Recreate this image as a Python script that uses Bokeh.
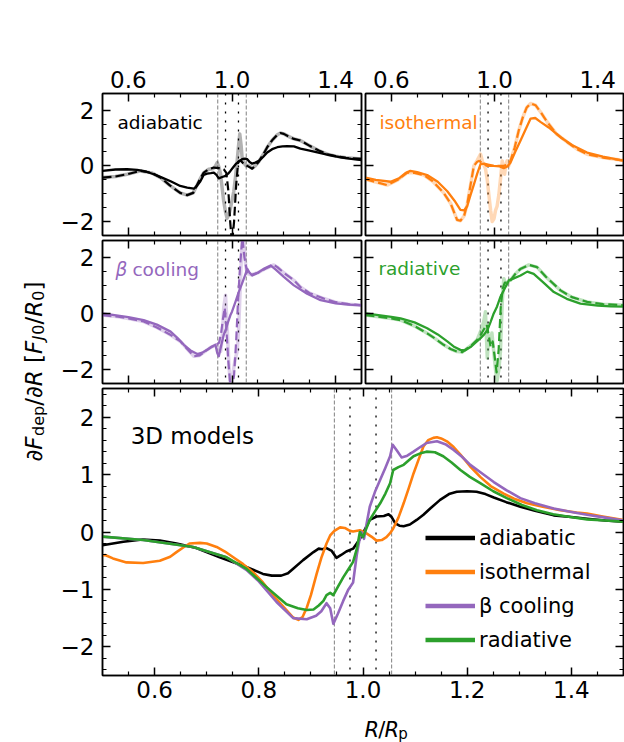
import math
from bokeh.plotting import figure
from bokeh.models import Range1d, FixedTicker, LinearAxis, Span, Label, Legend, LegendItem
from bokeh.layouts import row, column
from bokeh.embed import file_html
from bokeh.resources import INLINE

FONT = "DejaVu Sans"

# ---------------- ticks ----------------
x_major_small = [0.6, 1.0, 1.4]
x_minor_small = [0.7, 0.8, 0.9, 1.1, 1.2, 1.3]
x_major_big = [0.6, 0.8, 1.0, 1.2, 1.4]
x_minor_big = [0.55, 0.65, 0.7, 0.75, 0.85, 0.9, 0.95, 1.05, 1.1, 1.15, 1.25, 1.3, 1.35, 1.45]
x_tick_labels = {0.6: "0.6", 0.8: "0.8", 1.0: "1.0", 1.2: "1.2", 1.4: "1.4"}
y_major_small = [-2, 0, 2]
y_minor_small = [-1.5, -1.0, -0.5, 0.5, 1.0, 1.5]
y_major_big = [-2, -1, 0, 1, 2]
y_minor_big = [-2.4, -2.2, -1.8, -1.6, -1.4, -1.2, -0.8, -0.6, -0.4, -0.2,
               0.2, 0.4, 0.6, 0.8, 1.2, 1.4, 1.6, 1.8, 2.2, 2.4]
y_tick_labels = {-2: "\u22122", -1: "\u22121", 0: "0", 1: "1", 2: "2"}

hill_edges = [0.945, 1.055]
inner_edges = [0.975, 1.025]

BLACK = "#000000"
ORANGE = "#ff7f0e"
PURPLE = "#9467bd"
GREEN = "#2ca02c"

# ---------------- 3D models (bottom panel) ----------------
adi_3d = [(0.50, -0.23), (0.54, -0.17), (0.577, -0.13), (0.61, -0.15), (0.642, -0.20), (0.68, -0.28),
          (0.725, -0.44), (0.776, -0.61), (0.808, -0.73), (0.825, -0.76), (0.843, -0.76), (0.856, -0.72),
          (0.866, -0.64), (0.885, -0.49), (0.905, -0.35), (0.915, -0.29), (0.922, -0.30), (0.93, -0.28),
          (0.94, -0.33), (0.949, -0.45), (0.958, -0.40), (0.968, -0.34), (0.981, -0.29), (0.994, -0.12),
          (1.004, 0.05), (1.013, 0.21), (1.026, 0.27), (1.04, 0.28), (1.049, 0.31), (1.055, 0.26),
          (1.062, 0.15), (1.07, 0.11), (1.078, 0.10), (1.09, 0.13), (1.103, 0.21), (1.116, 0.30),
          (1.129, 0.41), (1.148, 0.56), (1.165, 0.66), (1.18, 0.70), (1.20, 0.71), (1.218, 0.70),
          (1.235, 0.66), (1.251, 0.60), (1.275, 0.52), (1.302, 0.44), (1.33, 0.37), (1.366, 0.29),
          (1.40, 0.26), (1.43, 0.23), (1.465, 0.20), (1.50, 0.18)]

iso_3d = [(0.50, -0.41), (0.505, -0.40), (0.52, -0.46), (0.546, -0.53), (0.578, -0.54), (0.61, -0.50),
          (0.63, -0.43), (0.642, -0.35), (0.655, -0.27), (0.667, -0.20), (0.687, -0.19), (0.70, -0.20),
          (0.719, -0.26), (0.735, -0.34), (0.751, -0.44), (0.77, -0.56), (0.789, -0.70), (0.808, -0.88),
          (0.828, -1.11), (0.847, -1.30), (0.866, -1.49), (0.876, -1.53), (0.884, -1.48), (0.892, -1.32),
          (0.90, -1.10), (0.911, -0.73), (0.92, -0.45), (0.93, -0.20), (0.937, -0.06), (0.945, 0.02),
          (0.956, 0.08), (0.965, 0.07), (0.975, 0.02), (0.981, 0.01), (0.994, 0.03), (1.006, -0.02),
          (1.016, -0.08), (1.026, -0.15), (1.036, -0.14), (1.045, -0.09), (1.052, -0.02), (1.058, 0.06),
          (1.068, 0.25), (1.078, 0.50), (1.088, 0.77), (1.097, 1.02), (1.107, 1.27), (1.116, 1.49),
          (1.125, 1.60), (1.135, 1.64), (1.142, 1.65), (1.15, 1.63), (1.161, 1.58), (1.174, 1.48),
          (1.187, 1.35), (1.205, 1.15), (1.225, 0.96), (1.245, 0.80), (1.27, 0.67), (1.29, 0.58),
          (1.315, 0.50), (1.345, 0.44), (1.379, 0.38), (1.41, 0.34), (1.43, 0.32), (1.46, 0.27),
          (1.50, 0.21)]

beta_3d = [(0.50, -0.08), (0.578, -0.14), (0.674, -0.26), (0.738, -0.44), (0.776, -0.66), (0.80, -0.86),
           (0.834, -1.22), (0.866, -1.50), (0.892, -1.52), (0.910, -1.46), (0.920, -1.38), (0.930, -1.24),
           (0.937, -1.33), (0.943, -1.60), (0.952, -1.42), (0.962, -1.20), (0.972, -1.00), (0.981, -0.88),
           (0.988, -0.40), (0.993, -0.15), (0.997, 0.0), (1.002, -0.12), (1.007, 0.15), (1.013, 0.44),
           (1.023, 0.70), (1.033, 0.91), (1.043, 1.12), (1.052, 1.32), (1.057, 1.52), (1.065, 1.42),
           (1.074, 1.30), (1.085, 1.33), (1.097, 1.40), (1.11, 1.48), (1.122, 1.55), (1.142, 1.58),
           (1.158, 1.53), (1.174, 1.43), (1.19, 1.31), (1.206, 1.17), (1.23, 1.01), (1.251, 0.87),
           (1.275, 0.73), (1.302, 0.59), (1.33, 0.50), (1.366, 0.41), (1.40, 0.35), (1.43, 0.30),
           (1.465, 0.25), (1.50, 0.20)]

rad_3d = [(0.50, -0.08), (0.578, -0.14), (0.674, -0.26), (0.738, -0.44), (0.776, -0.64), (0.815, -0.96),
          (0.853, -1.26), (0.875, -1.33), (0.892, -1.36), (0.905, -1.35), (0.915, -1.28), (0.924, -1.20),
          (0.930, -1.10), (0.937, -1.06), (0.943, -1.10), (0.952, -0.95), (0.962, -0.79), (0.972, -0.65),
          (0.981, -0.52), (0.988, -0.30), (0.994, 0.0), (1.0, -0.09), (1.006, 0.05), (1.013, 0.21),
          (1.023, 0.36), (1.033, 0.50), (1.043, 0.67), (1.052, 0.85), (1.058, 1.08), (1.068, 1.13),
          (1.078, 1.17), (1.088, 1.25), (1.097, 1.32), (1.11, 1.37), (1.122, 1.40), (1.138, 1.39),
          (1.154, 1.32), (1.17, 1.21), (1.187, 1.08), (1.205, 0.96), (1.225, 0.85), (1.25, 0.71),
          (1.276, 0.59), (1.305, 0.47), (1.334, 0.38), (1.365, 0.31), (1.398, 0.26), (1.43, 0.22),
          (1.465, 0.20), (1.50, 0.18)]

# ---------------- small panels: solid, dashed, faint ----------------
adi_solid = [(0.50, -0.18), (0.55, -0.13), (0.595, -0.12), (0.634, -0.14), (0.67, -0.21), (0.698, -0.30),
             (0.73, -0.42), (0.763, -0.55), (0.80, -0.72), (0.827, -0.78), (0.853, -0.82), (0.866, -0.70),
             (0.878, -0.55), (0.891, -0.32), (0.904, -0.28), (0.918, -0.26), (0.93, -0.24), (0.94, -0.32),
             (0.949, -0.45), (0.962, -0.40), (0.975, -0.36), (0.985, -0.28), (0.994, -0.18), (1.004, -0.06),
             (1.014, 0.06), (1.026, 0.15), (1.039, 0.24), (1.05, 0.26), (1.059, 0.24), (1.068, 0.14),
             (1.078, 0.08), (1.09, 0.12), (1.104, 0.18), (1.12, 0.32), (1.136, 0.48), (1.155, 0.60),
             (1.175, 0.67), (1.195, 0.70), (1.213, 0.71), (1.239, 0.70), (1.264, 0.62), (1.30, 0.55),
             (1.342, 0.46), (1.38, 0.38), (1.42, 0.31), (1.46, 0.25), (1.50, 0.21)]
adi_dashed = [(0.50, -0.42), (0.55, -0.38), (0.595, -0.30), (0.647, -0.18), (0.69, -0.25), (0.724, -0.42),
              (0.76, -0.70), (0.80, -0.97), (0.827, -1.05), (0.85, -0.97), (0.866, -0.67), (0.878, -0.45),
              (0.891, -0.24), (0.91, -0.12), (0.93, -0.06), (0.949, -0.08), (0.968, -0.12), (0.978, -0.25),
              (0.986, -0.90), (0.993, -2.00), (1.0, -2.80), (1.008, -2.00), (1.016, -0.70), (1.024, 0.15),
              (1.032, 0.20), (1.042, 0.10), (1.05, 0.02), (1.059, 0.0), (1.078, -0.10), (1.09, 0.0),
              (1.104, 0.16), (1.12, 0.40), (1.136, 0.67), (1.155, 0.92), (1.175, 1.12), (1.187, 1.18),
              (1.20, 1.15), (1.22, 1.05), (1.239, 0.97), (1.264, 0.91), (1.30, 0.72), (1.335, 0.55),
              (1.368, 0.42), (1.40, 0.35), (1.44, 0.29), (1.50, 0.25)]
adi_faint = [(0.50, -0.42), (0.55, -0.38), (0.595, -0.30), (0.647, -0.18), (0.69, -0.25), (0.724, -0.42),
             (0.76, -0.70), (0.80, -0.97), (0.827, -1.05), (0.85, -0.97), (0.866, -0.67), (0.878, -0.45),
             (0.891, -0.24), (0.91, -0.12), (0.926, -0.10), (0.935, -0.02), (0.943, 0.12), (0.950, -0.05),
             (0.956, -0.30), (0.962, -0.80), (0.968, -1.27), (0.975, -1.65), (0.981, -1.88), (0.988, -1.75),
             (0.994, -1.52), (1.0, -1.25), (1.007, -0.91), (1.014, -0.35), (1.02, 0.18), (1.025, 0.70),
             (1.03, 1.15), (1.035, 0.75), (1.039, 0.30), (1.046, 0.10), (1.055, 0.0), (1.062, 0.02),
             (1.07, -0.02), (1.078, -0.08), (1.09, 0.0), (1.104, 0.16), (1.12, 0.40), (1.136, 0.67),
             (1.155, 0.92), (1.175, 1.12), (1.187, 1.18), (1.20, 1.15), (1.22, 1.05), (1.239, 0.97),
             (1.264, 0.91), (1.30, 0.72), (1.335, 0.55), (1.368, 0.42), (1.40, 0.35), (1.44, 0.29),
             (1.50, 0.25)]

iso_solid = [(0.50, -0.42), (0.54, -0.50), (0.597, -0.57), (0.63, -0.45), (0.655, -0.26), (0.674, -0.18),
             (0.70, -0.22), (0.739, -0.33), (0.78, -0.57), (0.817, -0.91), (0.845, -1.25), (0.868, -1.58),
             (0.882, -1.60), (0.894, -1.45), (0.907, -1.05), (0.92, -0.67), (0.933, -0.28), (0.946, 0.06),
             (0.96, 0.08), (0.975, 0.05), (0.997, 0.0), (1.02, -0.02), (1.036, -0.08), (1.05, -0.02),
             (1.062, 0.12), (1.08, 0.50), (1.101, 0.91), (1.12, 1.30), (1.14, 1.70), (1.158, 1.72),
             (1.178, 1.58), (1.21, 1.38), (1.256, 1.03), (1.30, 0.75), (1.359, 0.48), (1.42, 0.33),
             (1.488, 0.21), (1.50, 0.20)]
iso_dashed = [(0.50, -0.48), (0.54, -0.58), (0.584, -0.69), (0.625, -0.50), (0.662, -0.24), (0.69, -0.25),
              (0.726, -0.33), (0.76, -0.55), (0.803, -0.97), (0.83, -1.35), (0.855, -1.94), (0.868, -1.97),
              (0.882, -1.80), (0.894, -1.39), (0.907, -0.70), (0.92, 0.00), (0.933, 0.15), (0.94, 0.18),
              (0.95, 0.12), (0.96, 0.05), (0.97, 0.0), (0.99, 0.0), (1.01, 0.0), (1.036, 0.0), (1.05, 0.05),
              (1.062, 0.18), (1.078, 0.65), (1.094, 1.27), (1.11, 1.75), (1.125, 2.10), (1.14, 2.24),
              (1.159, 2.18), (1.18, 1.92), (1.204, 1.58), (1.24, 1.15), (1.282, 0.85), (1.32, 0.60),
              (1.359, 0.42), (1.42, 0.30), (1.488, 0.21), (1.50, 0.20)]
iso_faint = [(0.50, -0.48), (0.54, -0.58), (0.584, -0.69), (0.625, -0.50), (0.662, -0.24), (0.69, -0.25),
             (0.726, -0.33), (0.76, -0.55), (0.803, -0.97), (0.83, -1.35), (0.855, -1.94), (0.868, -1.97),
             (0.882, -1.80), (0.894, -1.39), (0.907, -0.70), (0.92, 0.00), (0.933, 0.20), (0.946, 0.42),
             (0.955, 0.10), (0.965, -0.10), (0.972, -0.50), (0.978, -1.03), (0.985, -1.60), (0.991, -2.00),
             (0.998, -1.90), (1.004, -1.60), (1.01, -1.45), (1.017, -1.03), (1.024, -0.40), (1.03, 0.18),
             (1.035, -0.10), (1.039, -0.30), (1.044, 0.05), (1.049, 0.18), (1.055, 0.00), (1.062, 0.18),
             (1.078, 0.65), (1.094, 1.27), (1.11, 1.75), (1.125, 2.10), (1.14, 2.24), (1.159, 2.18),
             (1.18, 1.92), (1.204, 1.58), (1.24, 1.15), (1.282, 0.85), (1.32, 0.60), (1.359, 0.42),
             (1.42, 0.30), (1.488, 0.21), (1.50, 0.20)]

beta_solid = [(0.50, 0.0), (0.56, -0.08), (0.60, -0.13), (0.659, -0.24), (0.71, -0.40), (0.763, -0.65),
              (0.79, -0.88), (0.814, -1.12), (0.84, -1.32), (0.866, -1.45), (0.885, -1.40), (0.904, -1.30),
              (0.92, -1.20), (0.936, -1.12), (0.943, -1.41), (0.949, -1.53), (0.958, -1.15), (0.968, -0.77),
              (0.975, -0.60), (0.985, -0.30), (0.994, -0.06), (1.0, 0.06), (1.013, 0.40), (1.026, 0.76),
              (1.04, 1.10), (1.05, 1.35), (1.059, 1.59), (1.068, 1.45), (1.078, 1.35), (1.10, 1.45),
              (1.125, 1.60), (1.149, 1.71), (1.17, 1.55), (1.20, 1.30), (1.239, 1.00), (1.29, 0.70),
              (1.342, 0.47), (1.40, 0.36), (1.45, 0.31), (1.50, 0.29)]
beta_dashed = [(0.50, -0.06), (0.56, -0.12), (0.60, -0.18), (0.659, -0.29), (0.71, -0.50), (0.76, -0.75),
               (0.801, -1.00), (0.83, -1.30), (0.853, -1.53), (0.875, -1.50), (0.904, -1.30), (0.92, -1.20),
               (0.94, -1.12), (0.95, -1.05), (0.958, -0.70), (0.965, -0.20), (0.972, 0.20), (0.978, -0.50),
               (0.985, -1.60), (0.992, -2.40), (1.0, -2.70), (1.008, -2.20), (1.016, -1.00), (1.024, 0.60),
               (1.032, 1.80), (1.04, 2.70), (1.048, 2.00), (1.059, 1.42), (1.075, 1.38), (1.10, 1.45),
               (1.13, 1.60), (1.161, 1.73), (1.175, 1.65), (1.20, 1.45), (1.239, 1.18), (1.264, 0.94),
               (1.30, 0.72), (1.354, 0.53), (1.40, 0.40), (1.45, 0.33), (1.50, 0.29)]
beta_faint = [(0.50, -0.06), (0.56, -0.12), (0.60, -0.18), (0.659, -0.29), (0.71, -0.50), (0.76, -0.75),
              (0.801, -1.00), (0.83, -1.30), (0.853, -1.53), (0.875, -1.50), (0.904, -1.30), (0.92, -1.20),
              (0.94, -1.12), (0.95, -1.25), (0.956, -1.36), (0.962, -0.90), (0.968, 0.20), (0.975, 0.65),
              (0.981, -0.40), (0.988, -1.83), (0.994, -2.60), (1.0, -2.40), (1.007, -1.94), (1.013, -1.60),
              (1.02, -1.36), (1.026, -0.50), (1.033, 1.20), (1.038, 2.40), (1.043, 2.80), (1.048, 2.30),
              (1.053, 1.70), (1.059, 1.42), (1.075, 1.38), (1.10, 1.45), (1.13, 1.60), (1.161, 1.73),
              (1.175, 1.65), (1.20, 1.45), (1.239, 1.18), (1.264, 0.94), (1.30, 0.72), (1.354, 0.53),
              (1.40, 0.40), (1.45, 0.33), (1.50, 0.29)]

rad_solid = [(0.50, 0.0), (0.55, -0.06), (0.60, -0.12), (0.636, -0.18), (0.69, -0.32), (0.739, -0.53),
             (0.78, -0.75), (0.817, -1.00), (0.845, -1.20), (0.868, -1.30), (0.885, -1.32), (0.907, -1.20),
             (0.925, -1.05), (0.946, -0.88), (0.96, -0.75), (0.972, -0.60), (0.985, -0.30), (0.997, 0.00),
             (1.01, 0.25), (1.023, 0.59), (1.04, 0.90), (1.056, 1.18), (1.075, 1.25), (1.101, 1.35),
             (1.127, 1.49), (1.152, 1.41), (1.19, 1.10), (1.23, 0.76), (1.28, 0.52), (1.333, 0.35),
             (1.40, 0.28), (1.45, 0.25), (1.50, 0.24)]
rad_dashed = [(0.50, -0.06), (0.55, -0.12), (0.60, -0.18), (0.636, -0.24), (0.69, -0.45), (0.739, -0.71),
              (0.77, -0.90), (0.803, -1.12), (0.83, -1.27), (0.855, -1.36), (0.875, -1.38), (0.894, -1.25),
              (0.915, -1.10), (0.933, -0.94), (0.948, -0.75), (0.96, -0.55), (0.97, -0.40), (0.978, -0.80),
              (0.985, -1.20), (0.993, -1.00), (1.0, -1.50), (1.008, -2.10), (1.016, -1.30), (1.024, 0.20),
              (1.032, 0.90), (1.04, 1.10), (1.05, 1.10), (1.062, 1.18), (1.08, 1.40), (1.10, 1.58),
              (1.133, 1.73), (1.165, 1.65), (1.20, 1.30), (1.256, 0.82), (1.30, 0.58), (1.359, 0.41),
              (1.42, 0.33), (1.50, 0.29)]
rad_faint = [(0.50, -0.06), (0.55, -0.12), (0.60, -0.18), (0.636, -0.24), (0.69, -0.45), (0.739, -0.71),
             (0.77, -0.90), (0.803, -1.12), (0.83, -1.27), (0.855, -1.36), (0.875, -1.38), (0.894, -1.25),
             (0.915, -1.10), (0.933, -0.94), (0.948, -0.60), (0.958, -0.30), (0.965, 0.06), (0.972, -1.59),
             (0.978, -0.80), (0.984, -1.00), (0.99, -0.70), (0.997, -1.36), (1.004, -2.00), (1.01, -2.40),
             (1.017, -2.00), (1.023, -1.36), (1.03, 0.40), (1.036, 1.24), (1.045, 1.00), (1.056, 1.18),
             (1.062, 1.18), (1.08, 1.40), (1.10, 1.58), (1.133, 1.73), (1.165, 1.65), (1.20, 1.30),
             (1.256, 0.82), (1.30, 0.58), (1.359, 0.41), (1.42, 0.33), (1.50, 0.29)]

legend_names = ["adiabatic", "isothermal", "\u03b2 cooling", "radiative"]
legend_colors = [BLACK, ORANGE, PURPLE, GREEN]

TICK_FS = "23px"


# ---------------- helpers ----------------
def add_axis(p, side, ticks, minor, show_labels, overrides=None, standoff=8):
    ax = LinearAxis(ticker=FixedTicker(ticks=ticks, minor_ticks=minor))
    ax.axis_line_width = 1.5
    ax.axis_line_color = "black"
    ax.major_tick_in = 8
    ax.major_tick_out = 0
    ax.minor_tick_in = 4
    ax.minor_tick_out = 0
    ax.major_tick_line_width = 1.5
    ax.minor_tick_line_width = 1.2
    if show_labels:
        ax.major_label_text_font = FONT
        ax.major_label_text_font_size = TICK_FS
        ax.major_label_text_color = "black"
        ax.major_label_standoff = standoff
        if overrides:
            ax.major_label_overrides = overrides
    else:
        ax.major_label_text_font_size = "0px"
        ax.major_label_standoff = 0
        ax.major_label_overrides = {t: "" for t in ticks}
    p.add_layout(ax, side)


def make_panel(w, h, bl, br, bt, bb, yr, xt, xm, yt, ym, lab_top, lab_bottom, lab_left):
    p = figure(width=w, height=h, x_range=Range1d(0.5, 1.5), y_range=Range1d(*yr),
               x_axis_location=None, y_axis_location=None, toolbar_location=None,
               output_backend="svg", min_border_left=bl, min_border_right=br,
               min_border_top=bt, min_border_bottom=bb)
    p.grid.visible = False
    p.outline_line_color = "black"
    p.outline_line_width = 1.5
    p.border_fill_color = "white"
    p.background_fill_color = "white"
    add_axis(p, "below", xt, xm, lab_bottom, x_tick_labels, standoff=5)
    add_axis(p, "above", xt, xm, lab_top, x_tick_labels, standoff=6)
    add_axis(p, "left", yt, ym, lab_left, y_tick_labels, standoff=8)
    add_axis(p, "right", yt, ym, False)
    for v in hill_edges:
        p.add_layout(Span(location=v, dimension="height", line_color="#808080",
                          line_width=1, line_dash="4 2", level="underlay"))
    for v in inner_edges:
        p.add_layout(Span(location=v, dimension="height", line_color="black",
                          line_width=1.3, line_dash="2 7", level="underlay"))
    return p


def draw(p, pts, color, width, dash="solid", alpha=1.0):
    xs = [a for a, b in pts]
    ys = [b for a, b in pts]
    return p.line(xs, ys, line_color=color, line_width=width, line_dash=dash, line_alpha=alpha,
                  line_join="round", line_cap="butt" if dash != "solid" else "round")


def panel_title(p, x, y, text, color, size="18.5px", style="normal", x_offset=0):
    p.add_layout(Label(x=x, y=y, text=text, text_color=color, text_font=FONT,
                       text_font_size=size, text_font_style=style,
                       text_baseline="alphabetic", text_align="left", x_offset=x_offset))


def strip(w, h):
    s = figure(width=w, height=h, x_range=Range1d(0, w), y_range=Range1d(0, h),
               x_axis_location=None, y_axis_location=None, toolbar_location=None,
               output_backend="svg", min_border=0)
    s.grid.visible = False
    s.outline_line_color = None
    s.border_fill_color = "white"
    s.background_fill_color = "white"
    return s


LEFT_W = 50          # width of the y-label strip
BL = 102 - LEFT_W    # left border of the left-column panels
SMALL_YR = (-2.5, 2.6)
p1 = make_panel(BL + 261, 237, BL, 2, 93, 2, SMALL_YR, x_major_small, x_minor_small,
                y_major_small, y_minor_small, True, False, True)
p2 = make_panel(261, 237, 2, 1, 93, 2, SMALL_YR, x_major_small, x_minor_small,
                y_major_small, y_minor_small, True, False, False)
p3 = make_panel(BL + 261, 148, BL, 2, 3, 2, SMALL_YR, x_major_small, x_minor_small,
                y_major_small, y_minor_small, False, False, True)
p4 = make_panel(261, 148, 2, 1, 3, 2, SMALL_YR, x_major_small, x_minor_small,
                y_major_small, y_minor_small, False, False, False)
P5_BOTTOM = 33
p5 = make_panel(BL + 522, 3 + 287 + P5_BOTTOM, BL, 1, 3, P5_BOTTOM, (-2.5, 2.5), x_major_big, x_minor_big,
                y_major_big, y_minor_big, False, True, True)

DASH = "9 4"
for p, faint, dashed, solid, col in [(p1, adi_faint, adi_dashed, adi_solid, BLACK),
                                      (p2, iso_faint, iso_dashed, iso_solid, ORANGE),
                                      (p3, beta_faint, beta_dashed, beta_solid, PURPLE),
                                      (p4, rad_faint, rad_dashed, rad_solid, GREEN)]:
    draw(p, faint, col, 3.5, alpha=0.3)
    draw(p, dashed, col, 2.2, dash=DASH)
    draw(p, solid, col, 2.3)

panel_title(p1, 0.558, 1.55, "adiabatic", BLACK)
panel_title(p2, 0.554, 1.55, "isothermal", ORANGE)
panel_title(p3, 0.55, 1.57, "\u03b2", PURPLE, style="italic")
panel_title(p3, 0.55, 1.57, "cooling", PURPLE, x_offset=17)
panel_title(p4, 0.55, 1.6, "radiative", GREEN)
panel_title(p5, 0.554, 1.68, "3D models", BLACK, size="23px")

for pts, col in [(adi_3d, BLACK), (iso_3d, ORANGE), (beta_3d, PURPLE), (rad_3d, GREEN)]:
    draw(p5, pts, col, 2.6)

items = []
for name, col in zip(legend_names, legend_colors):
    r = p5.line([math.nan], [math.nan], line_color=col, line_width=4.5)
    items.append(LegendItem(label=name, renderers=[r]))
leg = Legend(items=items, location=(323, 20), orientation="vertical", glyph_width=50,
             glyph_height=31, label_height=31, label_standoff=4, spacing=3, padding=0, margin=0,
             border_line_color=None, background_fill_alpha=0, label_text_font=FONT,
             label_text_font_size="21px", label_text_color="black")
p5.add_layout(leg)

# ---- x-axis label  R/R_p  (own strip below the bottom panel) ----
col_w = BL + 522
xlab_h = 742 - 237 - 148 - (3 + 287 + P5_BOTTOM)
xlab = strip(col_w, xlab_h)
xl_center = 362 - LEFT_W
xl_pieces = [("R", "21px", "italic", 0.0, 0), ("/", "21px", "normal", 15.1, 0),
             ("R", "21px", "italic", 22.2, 0), ("p", "15px", "normal", 37.3, -4)]
xl_total = 46.8
base_y = xlab_h - (729 - (742 - xlab_h))
for t, fs, st, dx, dy in xl_pieces:
    xlab.add_layout(Label(x=xl_center - xl_total / 2 + dx, y=base_y + dy, text=t, text_font=FONT,
                          text_font_size=fs, text_font_style=st, text_color="black",
                          text_baseline="alphabetic", text_align="left"))

# ---- y-axis label (own strip on the left) ----
ylab = strip(LEFT_W, 742)
yl_pieces = [("\u2202", "main", "normal", 11.7), ("F", "main", "italic", 13.8),
             ("dep", "sub", "normal", 30.2), ("/", "main", "normal", 7.8),
             ("\u2202", "main", "normal", 11.7), ("R", "main", "italic", 23.3),
             ("[", "main", "normal", 9.0), ("F", "main", "italic", 13.8),
             ("J", "sub", "italic", 5.5), ("0", "sub", "normal", 10.2),
             ("/", "main", "normal", 7.8), ("R", "main", "italic", 16.0),
             ("0", "sub", "normal", 10.2), ("]", "main", "normal", 9.0)]
total = sum(a for _, _, _, a in yl_pieces)
pos = 371 - total / 2
for t, kind, st, adv in yl_pieces:
    xb = 33 if kind == "main" else 37.5
    fs = "23px" if kind == "main" else "16px"
    ylab.add_layout(Label(x=xb, y=pos, text=t, text_font=FONT, text_font_size=fs,
                          text_font_style=st, angle=math.pi / 2, text_color="black",
                          text_baseline="alphabetic", text_align="left"))
    pos += adv

layout = row(ylab, column(row(p1, p2), row(p3, p4), p5, xlab))
open("out.html", "w").write(file_html(layout, INLINE))
